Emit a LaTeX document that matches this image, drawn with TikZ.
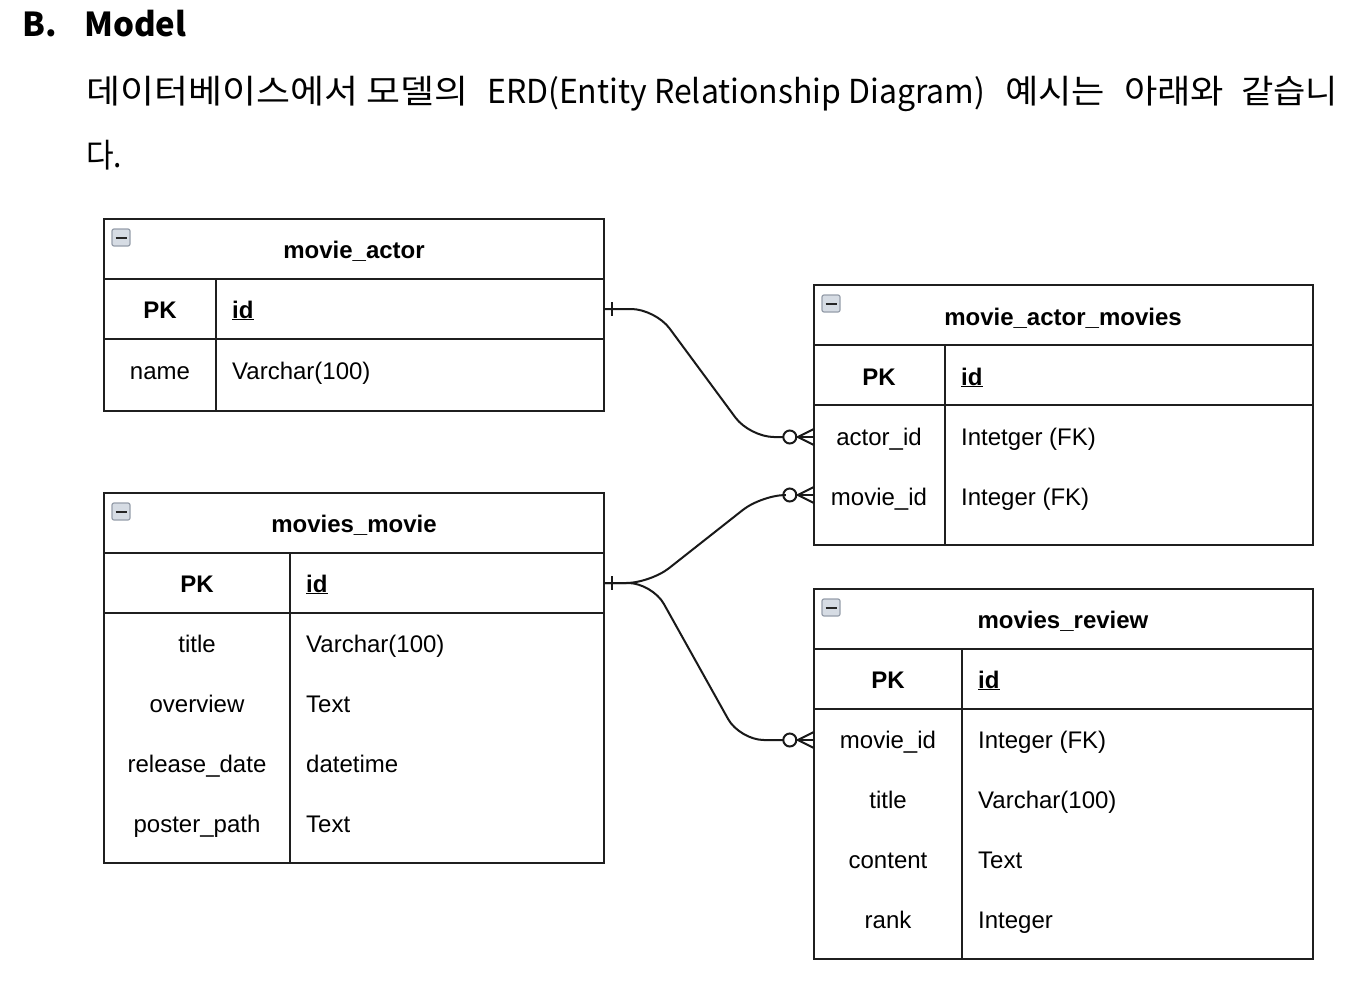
\documentclass[tikz,border=0pt]{standalone}
\usepackage{fontspec}
\usepackage{graphicx}
\setmainfont{Liberation Sans}
\newfontfamily\krfont{Noto Sans CJK KR}
\usetikzlibrary{calc}
\definecolor{iconfill}{RGB}{214,220,228}
\definecolor{iconedge}{RGB}{150,158,170}
\tikzset{
  frame/.style={draw=black!88, line width=2pt},
  conn/.style={draw=black!90, line width=2pt, rounded corners=24pt},
  tip/.style={draw=black!90, line width=2pt},
  tt/.style={font=\fontsize{24}{28}\selectfont\bfseries, inner sep=0pt, anchor=base},
  ct/.style={font=\fontsize{24}{28}\selectfont, inner sep=0pt, anchor=base},
  lt/.style={font=\fontsize{24}{28}\selectfont, inner sep=0pt, anchor=base west},
  rowref/.style={inner sep=0pt, minimum height=60pt},
  hd/.style={font=\krfont\fontsize{33}{40}\selectfont, inner sep=0pt, anchor=base west},
  hdb/.style={font=\krfont\bfseries\fontsize{33}{40}\selectfont, inner sep=0pt, anchor=base west},
  icon/.style={draw=iconedge, fill=iconfill, rounded corners=2pt, line width=1.2pt},
}
\newcommand\rsz[2]{\resizebox{#1pt}{\height}{#2}}
\newcommand\minusicon[2]{%
  \draw[icon] (#1+8,#2+10) rectangle (#1+26,#2+27);
  \draw[black!85, line width=2pt] (#1+11.5,#2+18.5) -- (#1+22.5,#2+18.5);}
\newcommand\crowfoot[1]{%
  \draw[tip] ($(#1.west)+(-24,0)$) circle (6.5pt);
  \draw[tip] ($(#1.west)+(0,-8)$) -- ($(#1.west)+(-16,0)$) -- ($(#1.west)+(0,8)$);
  \draw[tip] ($(#1.west)+(-16,0)$) -- (#1.west);}
\newcommand\onebar[1]{%
  \draw[tip] ($(#1.east)+(8,-7)$) -- ($(#1.east)+(8,7)$);}
\begin{document}
\begin{tikzpicture}[x=1pt,y=-1pt]
\useasboundingbox (0,0) rectangle (1360,990);

% heading
\node[hdb] (hB) at (22,37) {B.};
\node[hdb] (hM) at (84,37) {Model};
\node[hd] (h1) at (86,103) {\rsz{382}{데이터베이스에서 모델의}};
\node[hd] (h2) at (487,103) {\rsz{498}{ERD(Entity Relationship Diagram)}};
\node[hd] (h3) at (1005,103) {\rsz{100}{예시는}};
\node[hd] (h4) at (1124,103) {\rsz{100}{아래와}};
\node[hd] (h5) at (1241,103) {\rsz{97}{같습니}};
\node[hd] (h6) at (86,167) {\rsz{36}{다.}};

% ---------- movie_actor ----------
\draw[frame] (104,219) rectangle (604,411);
\draw[frame] (104,279) -- (604,279);
\draw[frame] (104,339) -- (604,339);
\draw[frame] (216,279) -- (216,411);
\minusicon{104}{219}
\node[tt] (maT) at (354,258) {movie\_actor};
\node[tt] (maPK) at (160,318) {PK};
\node[tt, anchor=base west] (maId) at (232,318) {\underline{id}};
\node[ct] (maN1) at (160,379) {name};
\node[lt] (maN2) at (232,379) {Varchar(100)};
\node[rowref, minimum width=500pt] (ma-pk) at (354,309) {};

% ---------- movie_actor_movies ----------
\draw[frame] (814,285) rectangle (1313,545);
\draw[frame] (814,345) -- (1313,345);
\draw[frame] (814,405) -- (1313,405);
\draw[frame] (945,345) -- (945,545);
\minusicon{814}{285}
\node[tt] (mamT) at (1063,325) {movie\_actor\_movies};
\node[tt] (mamPK) at (879,385) {PK};
\node[tt, anchor=base west] (mamId) at (961,385) {\underline{id}};
\node[ct] (mamA1) at (879,445) {actor\_id};
\node[lt] (mamA2) at (961,445) {Intetger (FK)};
\node[ct] (mamB1) at (879,505) {movie\_id};
\node[lt] (mamB2) at (961,505) {Integer (FK)};
\node[rowref, minimum width=499pt] (mam-actor) at (1063.5,437) {};
\node[rowref, minimum width=499pt] (mam-movie) at (1063.5,495) {};

% ---------- movies_movie ----------
\draw[frame] (104,493) rectangle (604,863);
\draw[frame] (104,553) -- (604,553);
\draw[frame] (104,613) -- (604,613);
\draw[frame] (290,553) -- (290,863);
\minusicon{104}{493}
\node[tt] (mmT) at (354,532) {movies\_movie};
\node[tt] (mmPK) at (197,592) {PK};
\node[tt, anchor=base west] (mmId) at (306,592) {\underline{id}};
\node[ct] (mm11) at (197,652) {title};
\node[lt] (mm12) at (306,652) {Varchar(100)};
\node[ct] (mm21) at (197,712) {overview};
\node[lt] (mm22) at (306,712) {Text};
\node[ct] (mm31) at (197,772) {release\_date};
\node[lt] (mm32) at (306,772) {datetime};
\node[ct] (mm41) at (197,832) {poster\_path};
\node[lt] (mm42) at (306,832) {Text};
\node[rowref, minimum width=500pt] (mm-pk) at (354,583) {};

% ---------- movies_review ----------
\draw[frame] (814,589) rectangle (1313,959);
\draw[frame] (814,649) -- (1313,649);
\draw[frame] (814,709) -- (1313,709);
\draw[frame] (962,649) -- (962,959);
\minusicon{814}{589}
\node[tt] (mrT) at (1063,628) {movies\_review};
\node[tt] (mrPK) at (888,688) {PK};
\node[tt, anchor=base west] (mrId) at (978,688) {\underline{id}};
\node[ct] (mr11) at (888,748) {movie\_id};
\node[lt] (mr12) at (978,748) {Integer (FK)};
\node[ct] (mr21) at (888,808) {title};
\node[lt] (mr22) at (978,808) {Varchar(100)};
\node[ct] (mr31) at (888,868) {content};
\node[lt] (mr32) at (978,868) {Text};
\node[ct] (mr41) at (888,928) {rank};
\node[lt] (mr42) at (978,928) {Integer};
\node[rowref, minimum width=499pt] (mr-movie) at (1063.5,740) {};

% ---------- connectors ----------
\draw[conn] (ma-pk.east) -- ++(51,0) -- ($(mam-actor.west)+(-64,0)$) -- ($(mam-actor.west)+(-30.5,0)$);
\onebar{ma-pk}
\crowfoot{mam-actor}

\draw[conn] (mm-pk.east) -- ++(46,0) -- ($(mam-movie.west)+(-52,0)$) -- ($(mam-movie.west)+(-30.5,0)$);
\draw[conn] (mm-pk.east) -- ++(48,0) -- ($(mr-movie.west)+(-74,0)$) -- ($(mr-movie.west)+(-30.5,0)$);
\onebar{mm-pk}
\crowfoot{mam-movie}
\crowfoot{mr-movie}
\end{tikzpicture}
\end{document}
